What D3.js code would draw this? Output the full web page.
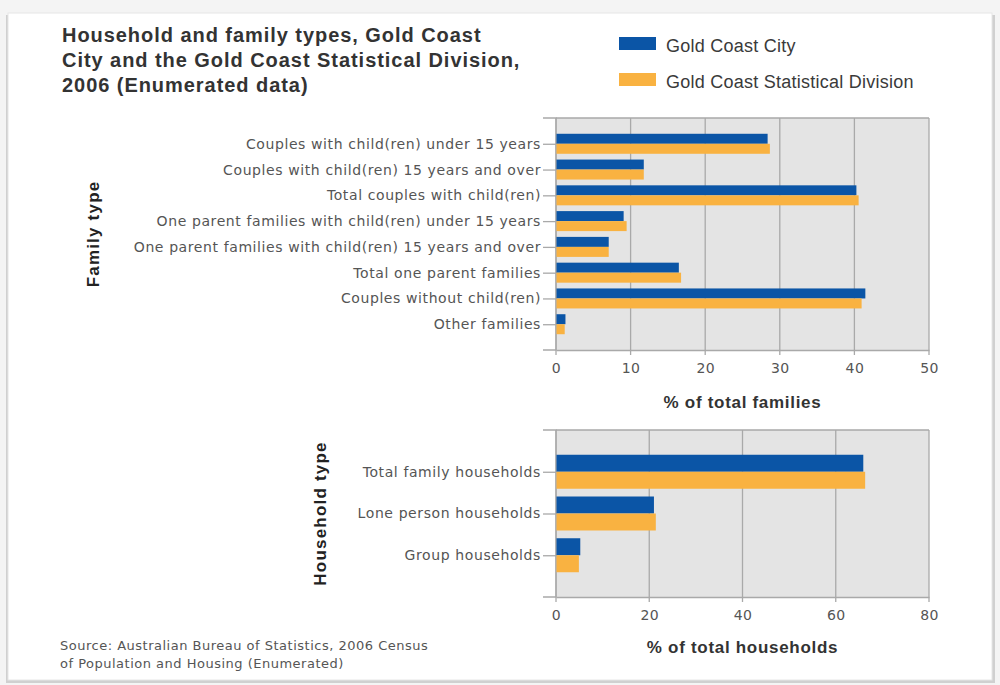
<!DOCTYPE html>
<html><head><meta charset="utf-8">
<script src="https://cdn.jsdelivr.net/npm/d3@7"></script>
<style>
body{margin:0;background:#f4f4f4;}
svg{display:block;}
</style></head>
<body>
<svg id="c" width="1000" height="685"></svg>
<script>
const familyTypes = [
  "Couples with child(ren) under 15 years",
  "Couples with child(ren) 15 years and over",
  "Total couples with child(ren)",
  "One parent families with child(ren) under 15 years",
  "One parent families with child(ren) 15 years and over",
  "Total one parent families",
  "Couples without child(ren)",
  "Other families"
];
const familyCity = [28.3, 11.7, 40.2, 9.0, 7.0, 16.4, 41.4, 1.2];
const familySD   = [28.6, 11.7, 40.5, 9.4, 7.0, 16.7, 40.9, 1.1];

const householdTypes = ["Total family households", "Lone person households", "Group households"];
const householdCity = [65.8, 20.9, 5.1];
const householdSD   = [66.2, 21.3, 4.8];

const seriesNames = ["Gold Coast City", "Gold Coast Statistical Division"];
const colors = ["#0b55a6", "#f9b241"];
const familyTicks = [0, 10, 20, 30, 40, 50];
const householdTicks = [0, 20, 40, 60, 80];

const svg = d3.select("#c");
// panel with shadow
svg.append("rect").attr("x",6).attr("y",15).attr("width",989).attr("height",668).attr("fill","#d0d0d0");
svg.append("rect").attr("x",8).attr("y",13).attr("width",984).attr("height",667).attr("fill","#fff").attr("stroke","#e6e6e6");

// title
const title = ["Household and family types, Gold Coast","City and the Gold Coast Statistical Division,","2006 (Enumerated data)"];
svg.append("g").selectAll("text").data(title).join("text")
  .attr("x",62).attr("y",(d,i)=>41.5+i*25)
  .attr("font-family","Liberation Sans, Arial, sans-serif").attr("font-weight","bold")
  .attr("font-size",20).attr("fill","#333").attr("letter-spacing",0.95).text(d=>d);

// legend
const lg = svg.append("g").selectAll("g").data(seriesNames).join("g")
  .attr("transform",(d,i)=>`translate(619,${37+i*36})`);
lg.append("rect").attr("width",37).attr("height",13).attr("fill",(d,i)=>colors[i]);
lg.append("text").attr("x",47).attr("y",15).attr("font-family","Liberation Sans, Arial, sans-serif")
  .attr("font-size",18).attr("letter-spacing",0.25).attr("fill","#3a3a3a").text(d=>d);

function panel(cfg){
  const {cats, a, b, ticks, max, top, bottom, left, right, barH, xTitle, yTitle, yTitleX, xTitleY} = cfg;
  const x = d3.scaleLinear().domain([0,max]).range([left,right]);
  const y = d3.scalePoint().domain(cats).range([top,bottom]).padding(1);
  const g = svg.append("g");
  g.append("rect").attr("x",left).attr("y",top).attr("width",right-left).attr("height",bottom-top).attr("fill","#e4e4e4");
  g.append("g").selectAll("line").data(ticks).join("line")
    .attr("x1",d=>x(d)).attr("x2",d=>x(d)).attr("y1",top).attr("y2",bottom+5)
    .attr("stroke","#a9a9a9").attr("stroke-width",1.3);
  g.append("line").attr("x1",left).attr("x2",right).attr("y1",top).attr("y2",top).attr("stroke","#a9a9a9").attr("stroke-width",1.3);
  // y axis
  const ya = d3.axisLeft(y).tickSize(13).tickPadding(2);
  const yg = g.append("g").attr("transform",`translate(${left},0)`).call(ya);
  yg.select(".domain").attr("stroke","#a9a9a9").attr("stroke-width",1.3).attr("d",`M-13,${top}H0V${bottom}H-13`);
  yg.selectAll(".tick line").attr("stroke","#a9a9a9").attr("stroke-width",1.3);
  yg.selectAll(".tick text").attr("font-family","DejaVu Sans, Verdana, sans-serif").attr("font-size",14)
    .attr("letter-spacing",0.6).attr("fill","#555");
  // x axis
  const xa = d3.axisBottom(x).tickValues(ticks).tickSize(0).tickPadding(13).tickFormat(d3.format("d"));
  const xg = g.append("g").attr("transform",`translate(0,${bottom})`).call(xa);
  xg.select(".domain").attr("stroke","#a9a9a9").attr("stroke-width",1.3);
  xg.selectAll(".tick text").attr("font-family","DejaVu Sans, Verdana, sans-serif").attr("font-size",14)
    .attr("letter-spacing",0.4).attr("fill","#555");
  // bars
  [a,b].forEach((vals,si)=>{
    g.append("g").selectAll("rect").data(cats).join("rect")
      .attr("x",x(0)+0.5).attr("y",(d)=>y(d)-barH+si*barH)
      .attr("width",(d,i)=>x(vals[i])-x(0)).attr("height",barH).attr("fill",colors[si]);
  });
  g.append("text").attr("x",(left+right)/2).attr("y",xTitleY).attr("text-anchor","middle")
    .attr("font-family","Liberation Sans, Arial, sans-serif").attr("font-weight","bold").attr("font-size",17)
    .attr("letter-spacing",0.7).attr("fill","#333").text(xTitle);
  g.append("text").attr("transform",`translate(${yTitleX},${(top+bottom)/2}) rotate(-90)`).attr("text-anchor","middle")
    .attr("font-family","Liberation Sans, Arial, sans-serif").attr("font-weight","bold").attr("font-size",17)
    .attr("letter-spacing",1.2).attr("fill","#222").text(yTitle);
}

panel({cats:familyTypes, a:familyCity, b:familySD, ticks:familyTicks, max:50,
  top:118, bottom:350, left:556, right:929, barH:10,
  xTitle:"% of total families", yTitle:"Family type", yTitleX:99, xTitleY:408});
panel({cats:householdTypes, a:householdCity, b:householdSD, ticks:householdTicks, max:80,
  top:430, bottom:597, left:556, right:929, barH:17,
  xTitle:"% of total households", yTitle:"Household type", yTitleX:326, xTitleY:653});

// source
const src = ["Source: Australian Bureau of Statistics, 2006 Census","of Population and Housing (Enumerated)"];
svg.append("g").selectAll("text").data(src).join("text")
  .attr("x",60).attr("y",(d,i)=>650+i*18)
  .attr("font-family","DejaVu Sans, Verdana, sans-serif").attr("font-size",13).attr("letter-spacing",0.5)
  .attr("fill","#555").text(d=>d);
</script>
</body></html>
